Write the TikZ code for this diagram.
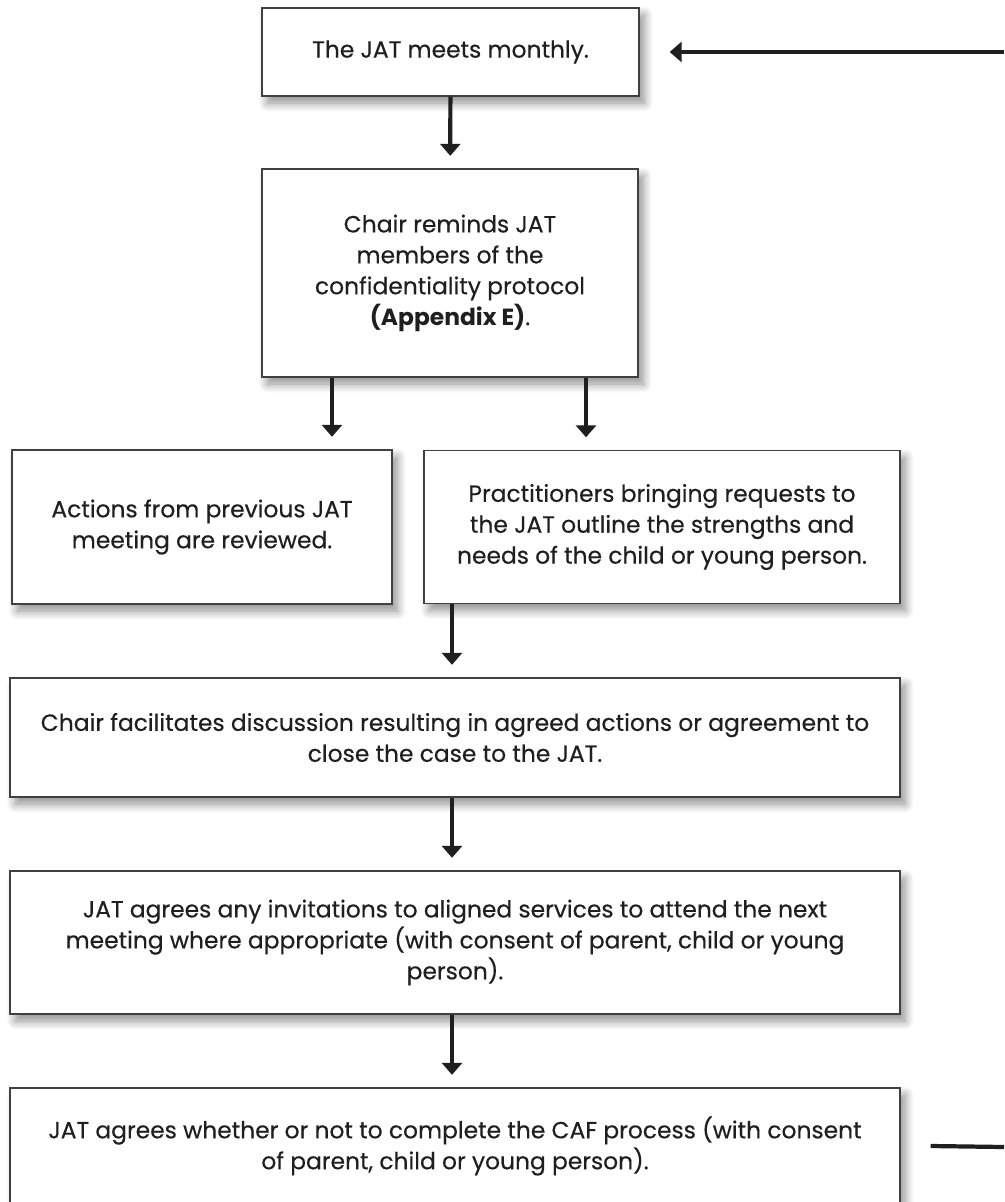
\documentclass[tikz,border=0pt]{standalone}
\usepackage{fontspec}
\setmainfont{Poppins}[UprightFeatures={FakeBold=0.35}]
\usepackage{tikz}
\usetikzlibrary{calc,positioning,arrows.meta,shadows.blur}
\definecolor{inkgrey}{gray}{0.12}
\definecolor{edgegrey}{gray}{0.25}

\begin{document}
\begin{tikzpicture}[x=0.02cm,y=-0.02cm]

\tikzset{stepbox/.style={font=\fontsize{13.3}{17.6}\selectfont,text=inkgrey,draw=edgegrey,line width=0.8pt,fill=white,align=center,inner sep=0pt,
  blur shadow={shadow xshift=3pt,shadow yshift=-4pt,shadow blur radius=5pt,shadow blur steps=12,shadow opacity=45}},
flowarrow/.style={line width=2.4pt,color=inkgrey,-{Triangle[width=0.4cm,length=0.24cm]},shorten >=0.25cm},
flowline/.style={line width=2.4pt,color=inkgrey}}

\useasboundingbox (0,0) rectangle (1004,1202);
\clip (0,0) rectangle (1004,1202);

% boxes
\node[stepbox,minimum width=7.54cm,minimum height=1.76cm] (meets) at (450.5,52) {The JAT meets monthly.};
\node[stepbox,minimum width=7.52cm,minimum height=4.16cm] (remind) at (450,273) {Chair reminds JAT\\members of the\\confidentiality protocol\\\textbf{(Appendix E)}.};
\node[stepbox,minimum width=7.6cm,minimum height=3.08cm] (review) at (202,527) {Actions from previous JAT\\meeting are reviewed.};
\node[stepbox,minimum width=9.52cm,minimum height=3.06cm] (outline) at (662,527) {Practitioners bringing requests to\\the JAT outline the strengths and\\needs of the child or young person.};
\node[stepbox,minimum width=17.8cm,minimum height=2.38cm] (discuss) at (455,737.5) {Chair facilitates discussion resulting in agreed actions or agreement to\\close the case to the JAT.};
\node[stepbox,minimum width=17.8cm,minimum height=2.86cm] (invite) at (455,942.5) {JAT agrees any invitations to aligned services to attend the next\\meeting where appropriate (with consent of parent, child or young\\person).};
\node[stepbox,minimum width=17.8cm,minimum height=2.32cm] (caf) at (455,1146) {JAT agrees whether or not to complete the CAF process (with consent\\of parent, child or young person).};

% loop ends
\coordinate (loopin) at (1004,52);
\coordinate (loopout) at (1004,1147);

% arrows
\draw[flowarrow] (meets) -- (remind);
\draw[flowarrow] ($(remind.south)+(-118,0)$) -- ($(review.north)+(130,0)$);
\draw[flowarrow] ($(remind.south)+(136,0)$) -- ($(outline.north)+(-76,0)$);
\draw[flowarrow] ($(outline.south)+(-210,0)$) -- ($(discuss.north)+(-3,0)$);
\draw[flowarrow] ($(discuss.south)+(-3,0)$) -- ($(invite.north)+(-3,0)$);
\draw[flowarrow] ($(invite.south)+(-3,0)$) -- ($(caf.north)+(-3,0)$);
\draw[flowarrow,shorten >=0.6cm] (loopin) -- (meets.east);
\draw[flowline] ([xshift=0.6cm]caf.east) -- (loopout);

\end{tikzpicture}
\end{document}
